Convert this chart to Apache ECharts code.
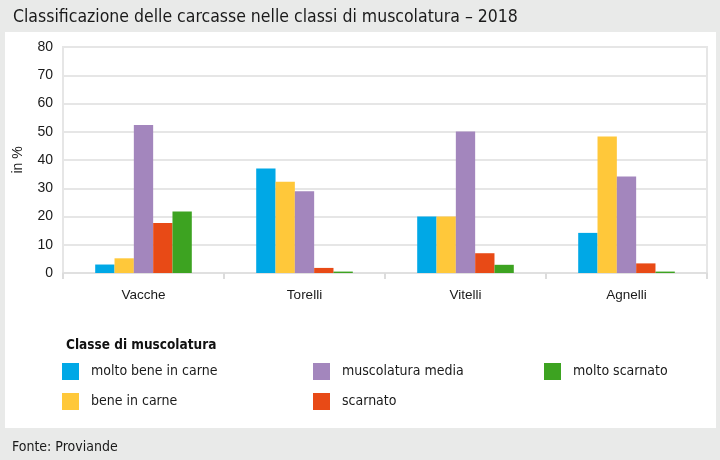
<!DOCTYPE html>
<html><head><meta charset="utf-8">
<script src="https://cdn.jsdelivr.net/npm/echarts@6/dist/echarts.min.js"></script>
<style>html,body{margin:0;padding:0;background:#e9eae9;}#c{width:720px;height:460px;}</style>
</head><body><div id="c"></div>
<script>
const categories = ['Vacche', 'Torelli', 'Vitelli', 'Agnelli'];
const seriesNames = ['molto bene in carne', 'bene in carne', 'muscolatura media', 'scarnato', 'molto scarnato'];
const moltoBene = [3.0, 37.0, 20.0, 14.2];
const bene = [5.2, 32.3, 20.0, 48.3];
const media = [52.4, 28.9, 50.1, 34.2];
const scarnato = [17.7, 1.8, 7.0, 3.4];
const moltoScarnato = [21.8, 0.5, 2.9, 0.5];
const yTicks = [0, 10, 20, 30, 40, 50, 60, 70, 80];
const colors = ['#00a8e6', '#ffc83a', '#a386bd', '#e84a16', '#3da321'];
const values = [moltoBene, bene, media, scarnato, moltoScarnato];

const chart = echarts.init(document.getElementById('c'));
const baseFont = 'Liberation Sans';
const condFont = '"Liberation Sans Narrow", "DejaVu Sans Condensed", sans-serif';
const legendCommon = {
  orient: 'vertical', itemWidth: 17, itemHeight: 17, itemGap: 13, icon: 'rect',
  selectedMode: false,
  textStyle: { fontFamily: condFont, fontSize: 14, color: '#1a1a1a', padding: [0, 0, 0, 7] },
  padding: 0
};
chart.setOption({
  backgroundColor: '#e9eae9',
  graphic: [
    { type: 'rect', shape: { x: 5, y: 32, width: 711, height: 396 }, style: { fill: '#ffffff' }, z: -10, silent: true }
  ],
  title: [
    { text: 'Classificazione delle carcasse nelle classi di muscolatura – 2018', left: 8, top: 3,
      textStyle: { fontFamily: condFont, fontSize: 17.5, fontWeight: 'normal', color: '#1a1a1a' } },
    { text: 'Classe di muscolatura', left: 61, top: 333,
      textStyle: { fontFamily: condFont, fontSize: 13.5, fontWeight: 'bold', color: '#111' } },
    { text: 'Fonte: Proviande', left: 7, top: 435,
      textStyle: { fontFamily: condFont, fontSize: 14, fontWeight: 'normal', color: '#1a1a1a' } }
  ],
  legend: [
    Object.assign({}, legendCommon, { left: 62, top: 363, data: [seriesNames[0], seriesNames[1]] }),
    Object.assign({}, legendCommon, { left: 313, top: 363, data: [seriesNames[2], seriesNames[3]] }),
    Object.assign({}, legendCommon, { left: 544, top: 363, data: [seriesNames[4]] })
  ],
  grid: { left: 63, right: 13, top: 47, bottom: 187, show: true, borderColor: '#e6e6e6', borderWidth: 2, containLabel: false },
  xAxis: {
    type: 'category', data: categories,
    axisLine: { lineStyle: { color: '#e0e0e0', width: 2 } },
    axisTick: { show: true, length: 6, lineStyle: { color: '#dcdcdc', width: 2 } },
    axisLabel: { fontFamily: baseFont, fontSize: 13.5, color: '#1a1a1a', margin: 15 }
  },
  yAxis: {
    type: 'value', min: 0, max: 80, interval: 10,
    name: 'in %', nameLocation: 'middle', nameGap: 38, nameRotate: 90,
    nameTextStyle: { fontFamily: baseFont, fontSize: 14, color: '#1a1a1a' },
    axisLine: { show: false }, axisTick: { show: false },
    axisLabel: { fontFamily: baseFont, fontSize: 14, color: '#1a1a1a', margin: 10,
      formatter: v => yTicks.includes(v) ? String(v) : '' },
    splitLine: { lineStyle: { color: '#e6e6e6', width: 2 } }
  },
  series: seriesNames.map((n, i) => ({
    name: n, type: 'bar', data: values[i], barGap: '0%', barCategoryGap: '40%',
    itemStyle: { color: colors[i] }, emphasis: { disabled: true }
  })),
  animation: false
});
</script></body></html>
